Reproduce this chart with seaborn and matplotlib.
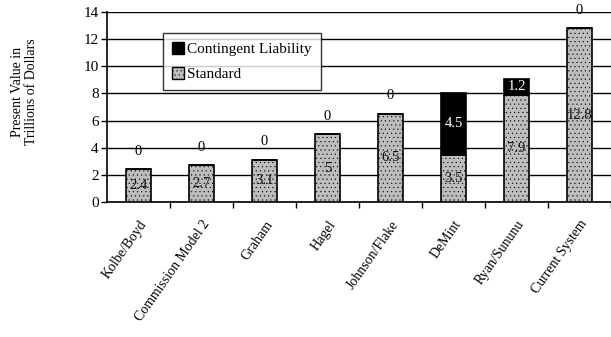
import pandas as pd
import numpy as np
import matplotlib.pyplot as plt
import seaborn as sns
from matplotlib.patches import Patch

# data
plans = ['Kolbe/Boyd', 'Commission Model 2', 'Graham', 'Hagel',
         'Johnson/Flake', 'DeMint', 'Ryan/Sununu', 'Current System']
standard = [2.4, 2.7, 3.1, 5, 6.5, 3.5, 7.9, 12.8]
contingent = [0, 0, 0, 0, 0, 4.5, 1.2, 0]

df = pd.DataFrame({'plan': plans, 'standard': standard, 'contingent': contingent})

sns.set_style('white')
plt.rcParams['font.family'] = ['Liberation Serif', 'DejaVu Serif']
plt.rcParams['hatch.color'] = '#8a8a8a'
plt.rcParams['hatch.linewidth'] = 0.3
plt.rcParams['text.color'] = 'black'
plt.rcParams['xtick.color'] = 'black'
plt.rcParams['ytick.color'] = 'black'

fig = plt.figure(figsize=(6.11, 3.37), dpi=100)
ax = fig.add_axes([107 / 611, 1 - 202 / 337, 504 / 611, 190 / 337])

std_color = '#bdbdbd'
sns.barplot(data=df, x='plan', y='standard', color=std_color, edgecolor='black',
            linewidth=1.2, width=0.4, ax=ax, saturation=1, zorder=3, hatch='....')
sns.barplot(data=df, x='plan', y='contingent', color='black', edgecolor='black',
            linewidth=1.2, width=0.4, ax=ax, saturation=1, zorder=3,
            bottom=df['standard'])

# value labels
for i, (s, c) in enumerate(zip(standard, contingent)):
    ax.text(i, s / 2, f'{s:g}', ha='center', va='center', fontsize=10.5,
            color='#111111', zorder=5)
    if c > 0:
        ax.text(i, s + c / 2, f'{c:g}', ha='center', va='center', fontsize=10.5,
                color='white', zorder=5)
    else:
        ax.annotate('0', (i, s + c), xytext=(0, 13), textcoords='offset points',
                    ha='center', va='center', fontsize=10.5, zorder=5)

ax.set_ylim(0, 14)
ax.set_yticks(range(0, 15, 2))
ax.set_xlim(-0.5, 7.38)
ax.yaxis.grid(True, color='black', linewidth=1.0, zorder=0)
ax.set_axisbelow(True)
for side in ['top', 'right']:
    ax.spines[side].set_visible(False)
for side in ['left', 'bottom']:
    ax.spines[side].set_color('black')
    ax.spines[side].set_linewidth(1.2)

ax.tick_params(axis='y', left=True, length=4, width=1, labelsize=11, pad=2)
ax.set_xticks(np.arange(8))
ax.set_xticklabels(plans, rotation=55, ha='right', rotation_mode='anchor',
                   fontsize=10)
ax.tick_params(axis='x', bottom=False, pad=8)
ax.set_xticks(np.arange(8) + 0.5, minor=True)
ax.tick_params(axis='x', which='minor', bottom=True, length=4, width=1)
ax.set_xlabel('')
ax.set_ylabel('')

fig.text(0.04, 0.727, 'Present Value in\nTrillions of Dollars', rotation=90,
         ha='center', va='center', fontsize=10, linespacing=1.1)

handles = [Patch(facecolor='black', edgecolor='black', label='Contingent Liability'),
           Patch(facecolor=std_color, edgecolor='black', hatch='....', label='Standard')]
leg = ax.legend(handles=handles, loc='upper left', bbox_to_anchor=(0.111, 0.889),
                frameon=True, fancybox=False, fontsize=11, handlelength=0.8,
                handleheight=0.8, handletextpad=0.2, borderpad=0.6,
                labelspacing=0.7, borderaxespad=0)
leg.get_frame().set_edgecolor('black')
leg.get_frame().set_linewidth(1.0)
leg.set_zorder(6)

fig.savefig('out.png', dpi=100)
